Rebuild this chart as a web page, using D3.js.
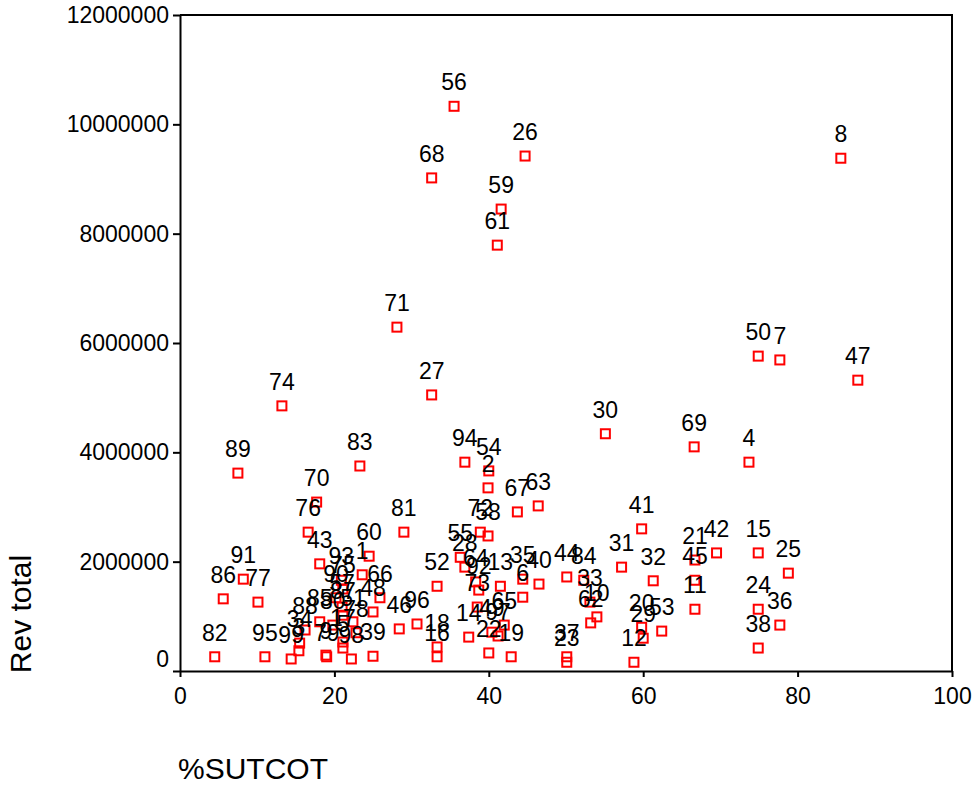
<!DOCTYPE html>
<html>
<head>
<meta charset="utf-8">
<script src="https://cdn.jsdelivr.net/npm/d3@7"></script>
<style>
  body { margin: 0; background: #fff; }
  text { font-family: "Liberation Sans", Arial, sans-serif; fill: #000; }
</style>
</head>
<body>
<div id="container"></div>
<script>
// case labels, %SUTCOT and Rev total (millions)
var caseIds = [1, 2, 4, 6, 7, 8, 10, 11, 12, 13, 14, 15, 16, 18, 19, 20, 21, 22, 23, 24,
  25, 26, 27, 28, 29, 30, 31, 32, 33, 35, 36, 37, 38, 39, 40, 41, 42, 43, 44, 45,
  46, 47, 48, 49, 50, 52, 53, 54, 55, 56, 58, 59, 60, 61, 62, 63, 64, 65, 66, 67,
  68, 69, 70, 71, 72, 73, 74, 75, 76, 77, 81, 82, 83, 84, 86, 89, 90, 91, 92, 93,
  94, 95, 96, 97, 98, 99, 3, 5, 9, 17, 34, 51, 57, 78, 79, 80, 85, 87, 88];
var sutcot = [23.6, 39.9, 73.7, 44.4, 77.7, 85.6, 54.0, 66.7, 58.8, 41.5, 37.4, 74.9, 33.3, 33.3, 42.9, 59.8, 66.7, 40.0, 50.1, 74.9,
  78.8, 44.7, 32.6, 36.9, 60.0, 55.1, 57.2, 61.3, 53.1, 44.4, 77.7, 50.1, 74.9, 25.0, 46.5, 59.8, 69.5, 18.1, 50.1, 66.7,
  28.4, 87.8, 25.0, 40.4, 74.9, 33.3, 62.4, 40.0, 36.3, 35.5, 39.9, 41.6, 24.5, 41.1, 53.2, 46.4, 38.3, 42.0, 25.9, 43.7,
  32.6, 66.6, 17.7, 28.1, 38.9, 38.5, 13.2, 21.1, 16.6, 10.1, 29.0, 4.5, 23.3, 52.3, 5.6, 7.5, 20.2, 8.2, 38.7, 20.9,
  36.9, 11.0, 30.7, 41.2, 22.2, 14.4, 15.4, 21.1, 18.9, 21.1, 15.5, 22.4, 21.0, 22.8, 19.0, 19.8, 18.1, 21.1, 16.2];
var revTotal = [1.76, 3.35, 3.82, 1.35, 5.69, 9.38, 0.99, 1.13, 0.16, 1.55, 0.62, 2.16, 0.26, 0.44, 0.26, 0.80, 2.03, 0.33, 0.16, 1.13,
  1.79, 9.42, 5.05, 1.90, 0.60, 4.34, 1.90, 1.65, 1.26, 1.68, 0.84, 0.26, 0.42, 0.27, 1.59, 2.60, 2.16, 1.96, 1.72, 1.66,
  0.77, 5.32, 1.08, 0.71, 5.76, 1.55, 0.73, 3.66, 2.08, 10.33, 2.47, 8.45, 2.10, 7.79, 0.88, 3.02, 1.63, 0.84, 1.34, 2.91,
  9.02, 4.10, 3.09, 6.29, 2.54, 1.17, 4.85, 1.50, 2.54, 1.26, 2.54, 0.26, 3.75, 1.66, 1.32, 3.62, 1.34, 1.68, 1.48, 1.66,
  3.82, 0.26, 0.86, 0.64, 0.22, 0.22, 0.37, 0.42, 0.29, 0.53, 0.51, 0.90, 1.17, 0.70, 0.26, 0.84, 0.90, 1.02, 0.75];

var xTicks = [0, 20, 40, 60, 80, 100];
var yTicks = [0, 2000000, 4000000, 6000000, 8000000, 10000000, 12000000];

var width = 976, height = 785;
var plotLeft = 180, plotRight = 952, plotTop = 15, plotBottom = 671;

var svg = d3.select("#container").append("svg")
    .attr("width", width)
    .attr("height", height);

var x = d3.scaleLinear().domain([0, 100]).range([plotLeft, plotRight]);
var y = d3.scaleLinear().domain([0, 12000000]).range([plotBottom, plotTop]);

// frame on top / right
svg.append("path")
    .attr("d", "M" + plotLeft + "," + plotTop + "H" + plotRight + "V" + plotBottom)
    .attr("fill", "none")
    .attr("stroke", "#000")
    .attr("stroke-width", 2);

// x axis
var xAxis = svg.append("g")
    .attr("transform", "translate(0," + plotBottom + ")")
    .call(d3.axisBottom(x).tickValues(xTicks).tickSize(6).tickPadding(7).tickSizeOuter(0));

// y axis
var yAxis = svg.append("g")
    .attr("transform", "translate(" + plotLeft + ",0)")
    .call(d3.axisLeft(y).tickValues(yTicks).tickSize(7).tickPadding(4).tickSizeOuter(0)
        .tickFormat(function(d) { return d3.format("d")(d); }));

[xAxis, yAxis].forEach(function(g) {
  g.attr("font-size", null).attr("font-family", null);
  g.select(".domain").attr("stroke-width", 2);
  g.selectAll(".tick line").attr("stroke-width", 2);
  g.selectAll("text").style("font-size", "23px").attr("fill", "#000");
});
// the 0 on the y axis sits a little above its tick
yAxis.selectAll(".tick text").filter(function(d) { return d === 0; }).attr("dy", "-0.18em");
xAxis.selectAll(".tick text").attr("dy", "0.85em");

// points
var pts = caseIds.map(function(id, i) {
  return {id: id, x: sutcot[i], y: revTotal[i] * 1000000};
});

var scatter = svg.append("g");
scatter.selectAll("rect")
    .data(pts)
  .enter().append("rect")
    .attr("x", function(d) { return x(d.x) - 4.5; })
    .attr("y", function(d) { return y(d.y) - 4.5; })
    .attr("width", 9)
    .attr("height", 9)
    .attr("fill", "none")
    .attr("stroke", "#ff0000")
    .attr("stroke-width", 2);

scatter.selectAll("text")
    .data(pts)
  .enter().append("text")
    .attr("x", function(d) { return x(d.x); })
    .attr("y", function(d) { return y(d.y) - 16; })
    .attr("text-anchor", "middle")
    .style("font-size", "23px")
    .text(function(d) { return d.id; });

// axis titles
svg.append("text")
    .attr("transform", "translate(31,614) rotate(-90)")
    .attr("text-anchor", "middle")
    .style("font-size", "30px")
    .text("Rev total");

svg.append("text")
    .attr("x", 178)
    .attr("y", 779)
    .style("font-size", "30px")
    .text("%SUTCOT");
</script>
</body>
</html>
